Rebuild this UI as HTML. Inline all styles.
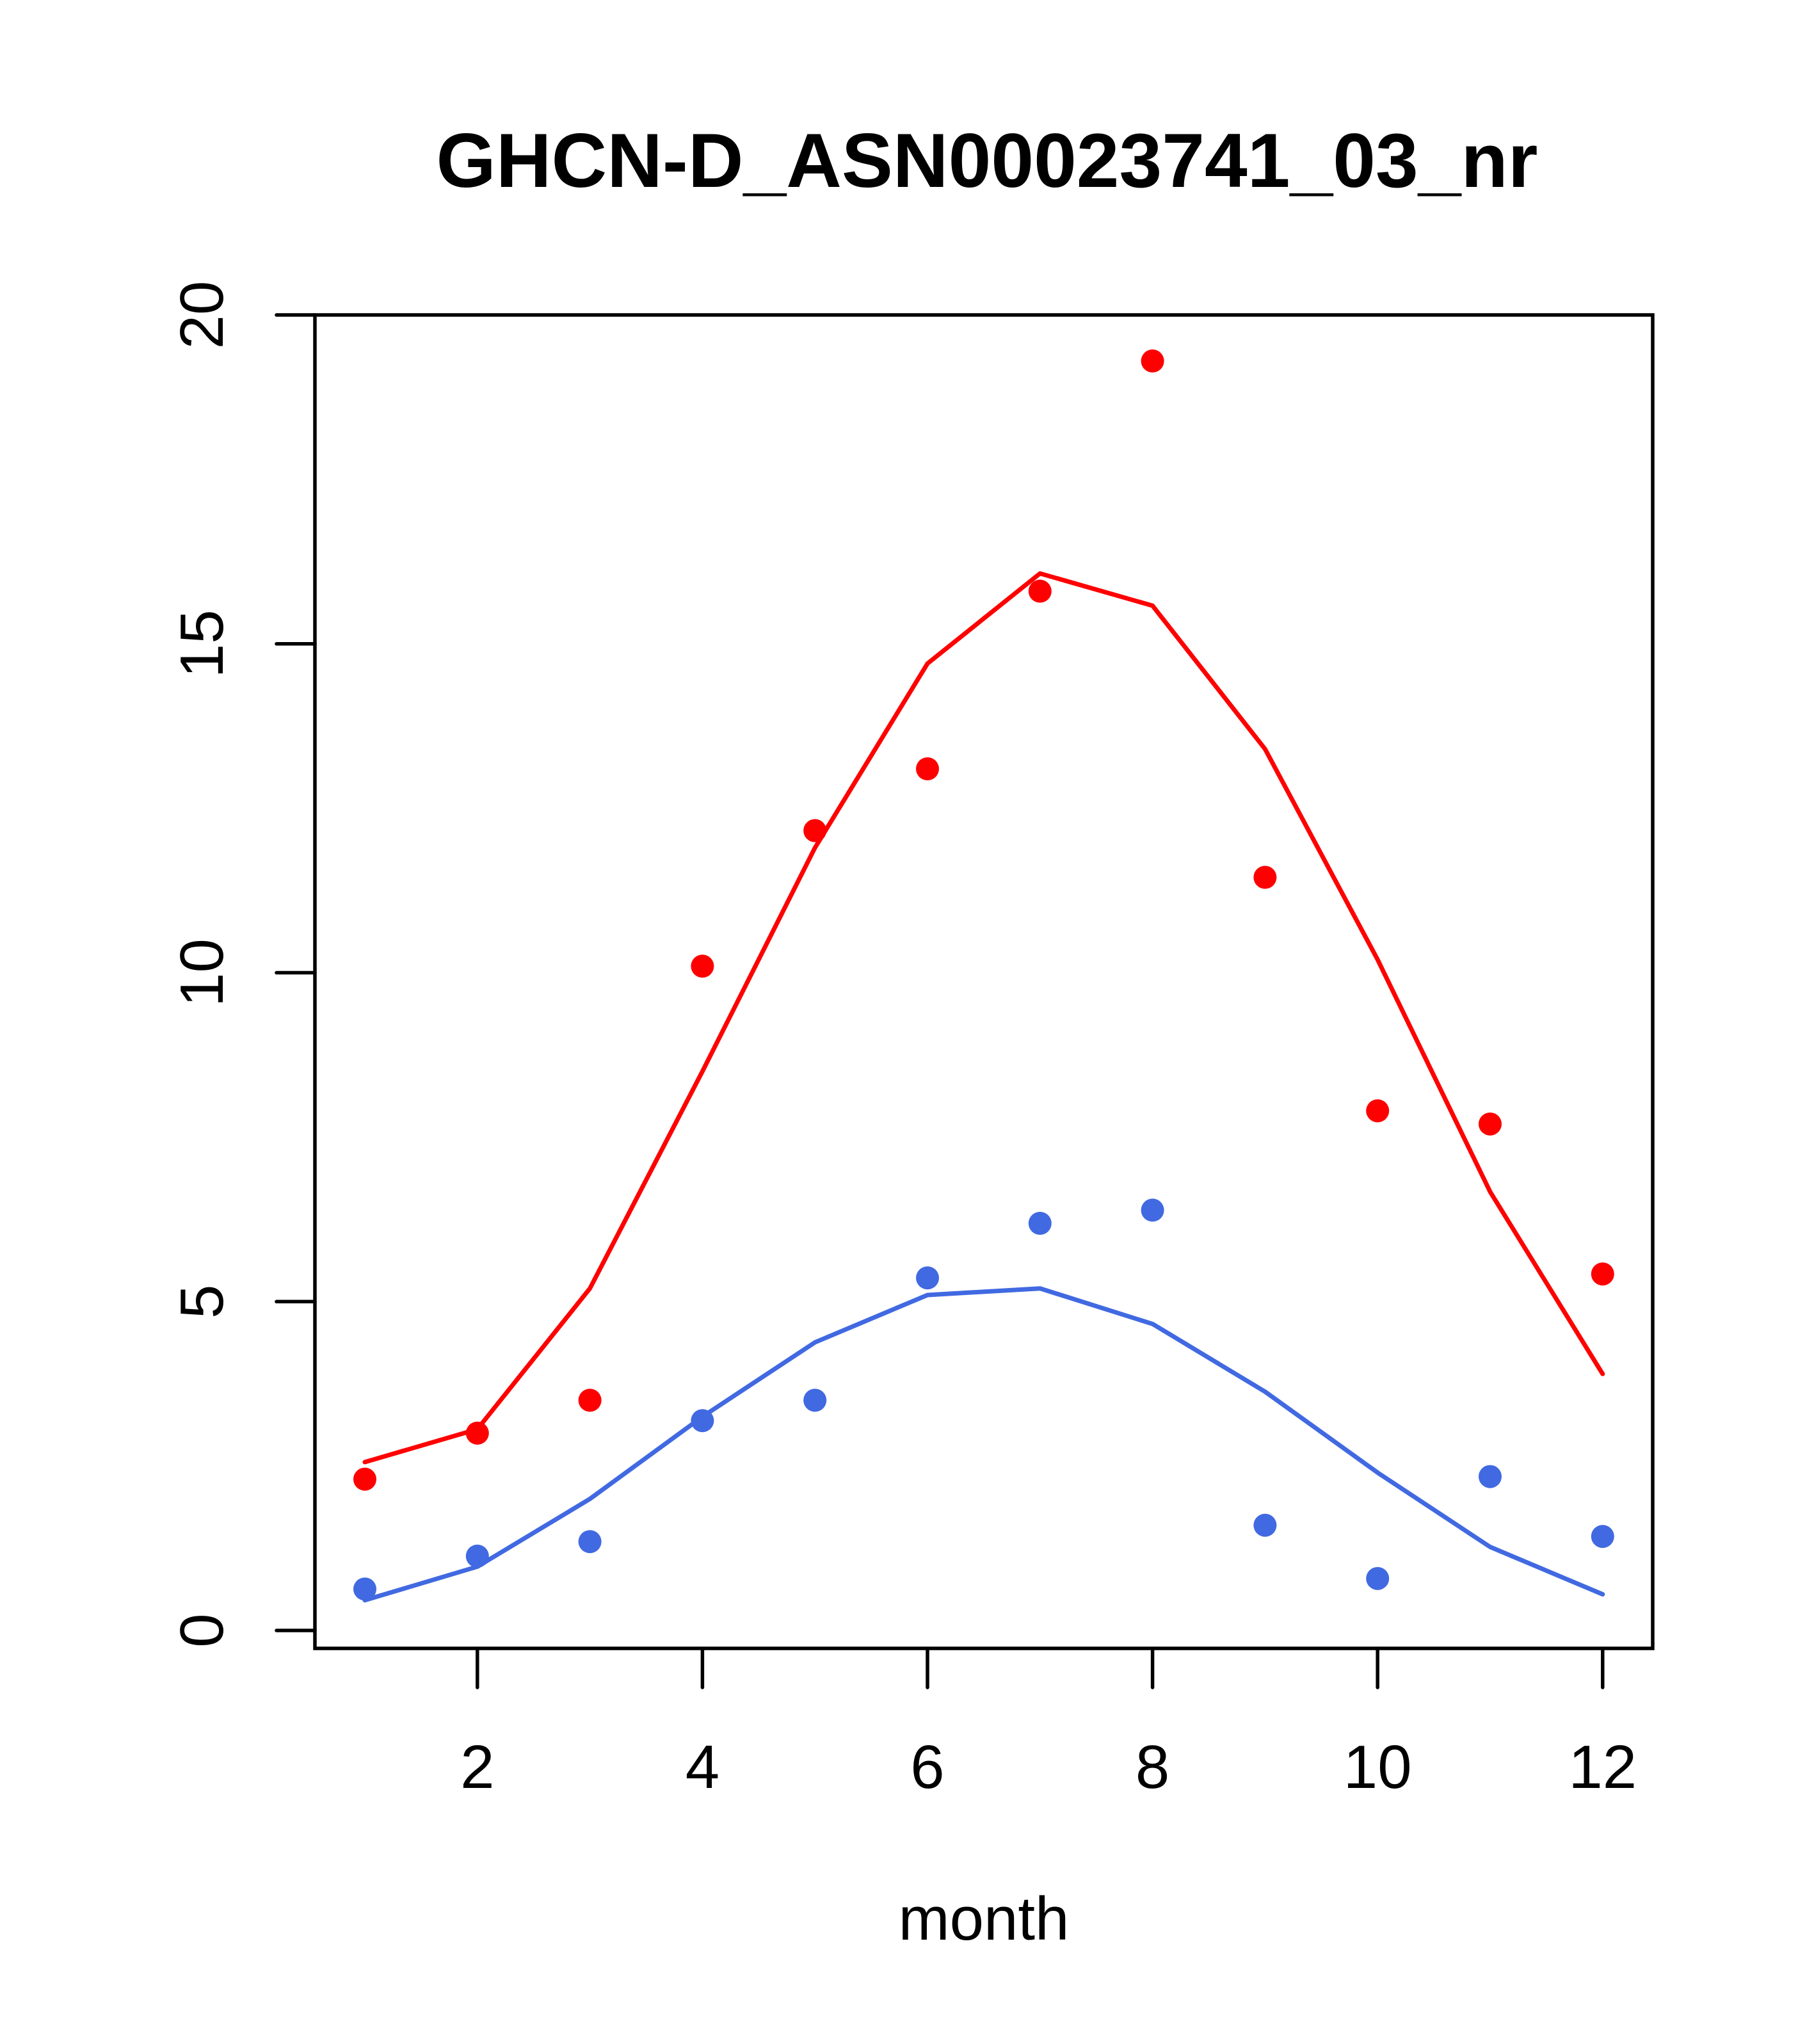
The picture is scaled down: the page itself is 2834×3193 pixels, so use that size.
<!DOCTYPE html>
<html><head><meta charset="utf-8"><style>html,body{margin:0;padding:0;background:#fff}</style></head>
<body>
<svg id="chart" width="2834" height="3188" xmlns="http://www.w3.org/2000/svg" font-family="Liberation Sans, sans-serif">
<rect width="2834" height="3188" fill="#fff"/>
<text x="1542" y="292" font-size="120" font-weight="bold" text-anchor="middle">GHCN-D_ASN00023741_03_nr</text>
<g id="marks"></g>
<rect x="492" y="492" width="2090" height="2083" fill="none" stroke="#000" stroke-width="5.5"/>
<text x="1537" y="3030" font-size="96" text-anchor="middle">month</text>
</svg>
<script>
const months = [1,2,3,4,5,6,7,8,9,10,11,12];
const redPoints = [2.3,3.0,3.5,10.1,12.16,13.1,15.8,19.3,11.45,7.9,7.7,5.42];
const redLine = [2.56,3.06,5.2,8.5,11.9,14.7,16.07,15.58,13.4,10.2,6.67,3.9];
const bluePoints = [0.63,1.13,1.35,3.19,3.5,5.36,6.19,6.39,1.6,0.79,2.34,1.43];
const blueLine = [0.46,0.97,2.0,3.25,4.38,5.1,5.2,4.66,3.63,2.4,1.27,0.55];
const xTicks = [2,4,6,8,10,12];
const yTicks = [0,5,10,15,20];

const NS = 'http://www.w3.org/2000/svg';
const xs = m => 570 + (m - 1) * 175.8;
const ys = v => 2547 - v * 102.75;
const g = document.getElementById('marks');
function mk(tag, attrs) {
  const e = document.createElementNS(NS, tag);
  for (const k in attrs) e.setAttribute(k, attrs[k]);
  g.appendChild(e);
  return e;
}
function line(vals, color, name) {
  const p = mk('polyline', {points: vals.map((v, i) => xs(months[i]) + ',' + ys(v)).join(' '), fill: 'none', stroke: color, 'stroke-width': 7, 'stroke-linejoin': 'round', 'stroke-linecap': 'round'});
  
  
}
function pts(vals, color, name) {
  vals.forEach((v, i) => {
    const c = mk('circle', {cx: xs(months[i]), cy: ys(v), r: 18, fill: color});
    
    
  });
}
line(redLine, '#ff0000', 'red-line');
line(blueLine, '#4169e1', 'blue-line');
pts(redPoints, '#ff0000', 'red-point');
pts(bluePoints, '#4169e1', 'blue-point');
xTicks.forEach(t => {
  const l = mk('line', {x1: xs(t), x2: xs(t), y1: 2575, y2: 2636, stroke: '#000', 'stroke-width': 5.5, 'stroke-linecap': 'round'});
  
  
  const tx = mk('text', {x: xs(t), y: 2793, 'font-size': 96, 'text-anchor': 'middle'});
  tx.textContent = t;
  
  
});
yTicks.forEach(t => {
  const l = mk('line', {x1: 432, x2: 492, y1: ys(t), y2: ys(t), stroke: '#000', 'stroke-width': 5.5, 'stroke-linecap': 'round'});
  
  
  const tx = mk('text', {x: 0, y: 0, 'font-size': 96, 'text-anchor': 'middle', transform: 'translate(348,' + ys(t) + ') rotate(-90)'});
  tx.textContent = t;
  
  
});
</script>
</body></html>
